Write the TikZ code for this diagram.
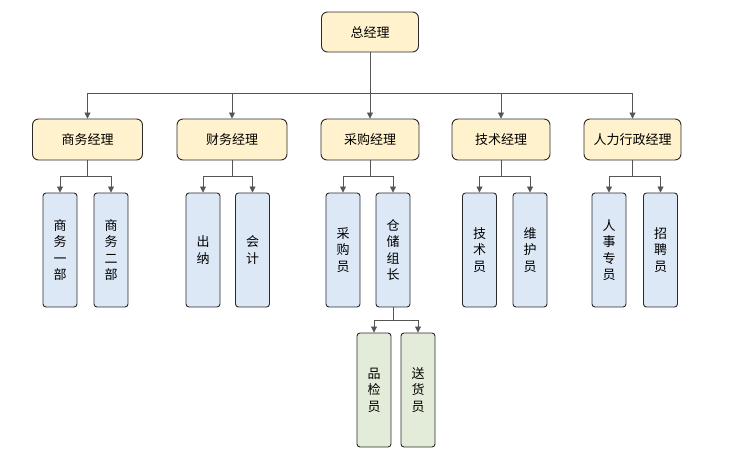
\documentclass[tikz,border=0pt]{standalone}
\usepackage{fontspec}
\newfontfamily\cjk{Noto Sans CJK SC}
\usetikzlibrary{arrows.meta}
\definecolor{mgrfill}{HTML}{FFF2CC}
\definecolor{subfill}{HTML}{DDE8F6}
\definecolor{grnfill}{HTML}{E3ECD9}
\definecolor{edge}{HTML}{2A2A2A}
\definecolor{lnk}{HTML}{555555}
\tikzset{
  base/.style={draw=edge, line width=0.9pt, inner sep=0pt, align=center,
    font=\cjk\fontsize{13}{16.5}\selectfont},
  mgr/.style={base, fill=mgrfill, rounded corners=6pt, minimum height=41pt},
  sub/.style={base, fill=subfill, rounded corners=3pt, minimum width=34pt, minimum height=114pt},
  grn/.style={base, fill=grnfill, rounded corners=3pt, minimum width=34pt, minimum height=114pt},
  conn/.style={draw=lnk, line width=0.8pt, -{Triangle[length=6pt,width=6pt]}}
}
\begin{document}
\begin{tikzpicture}[x=1pt,y=-1pt]
\useasboundingbox (0,0) rectangle (740,467);
\node[mgr, minimum width=97pt, minimum height=40pt] (top) at (370,32) {总经理};
\node[mgr, minimum width=110pt] (m1) at (87.5,139.5) {商务经理};
\node[mgr, minimum width=110pt] (m2) at (232,139.5) {财务经理};
\node[mgr, minimum width=98pt] (m3) at (370,139.5) {采购经理};
\node[mgr, minimum width=98pt] (m4) at (501,139.5) {技术经理};
\node[mgr, minimum width=97pt] (m5) at (632.5,139.5) {人力行政经理};

\node[sub] (c1) at (60,250) {商\\务\\一\\部};
\node[sub] (c2) at (111,250) {商\\务\\二\\部};
\node[sub] (c3) at (203,250) {出\\纳};
\node[sub] (c4) at (252.5,250) {会\\计};
\node[sub] (c5) at (343,250) {采\\购\\员};
\node[sub] (c6) at (393,250) {仓\\储\\组\\长};
\node[sub] (c7) at (479.5,250) {技\\术\\员};
\node[sub] (c8) at (530,250) {维\\护\\员};
\node[sub] (c9) at (609,250) {人\\事\\专\\员};
\node[sub] (c10) at (660.5,250) {招\\聘\\员};

\node[grn] (g1) at (374,390) {品\\检\\员};
\node[grn] (g2) at (418,390) {送\\货\\员};

\foreach \m in {m1,m2,m4,m5}{
  \draw[conn] (top.south) -- ++(0,41) -| (\m.north);
}
\draw[conn] (top.south) -- (m3.north);

\draw[conn] (m1.south) -- ++(0,16) -| (c1.north);
\draw[conn] (m1.south) -- ++(0,16) -| (c2.north);
\draw[conn] (m2.south) -- ++(0,16) -| (c3.north);
\draw[conn] (m2.south) -- ++(0,16) -| (c4.north);
\draw[conn] (m3.south) -- ++(0,16) -| (c5.north);
\draw[conn] (m3.south) -- ++(0,16) -| (c6.north);
\draw[conn] (m4.south) -- ++(0,16) -| (c7.north);
\draw[conn] (m4.south) -- ++(0,16) -| (c8.north);
\draw[conn] (m5.south) -- ++(0,16) -| (c9.north);
\draw[conn] (m5.south) -- ++(0,16) -| (c10.north);

\draw[conn] (c6.south) -- ++(0,13) -| (g1.north);
\draw[conn] (c6.south) -- ++(0,13) -| (g2.north);
\end{tikzpicture}
\end{document}
